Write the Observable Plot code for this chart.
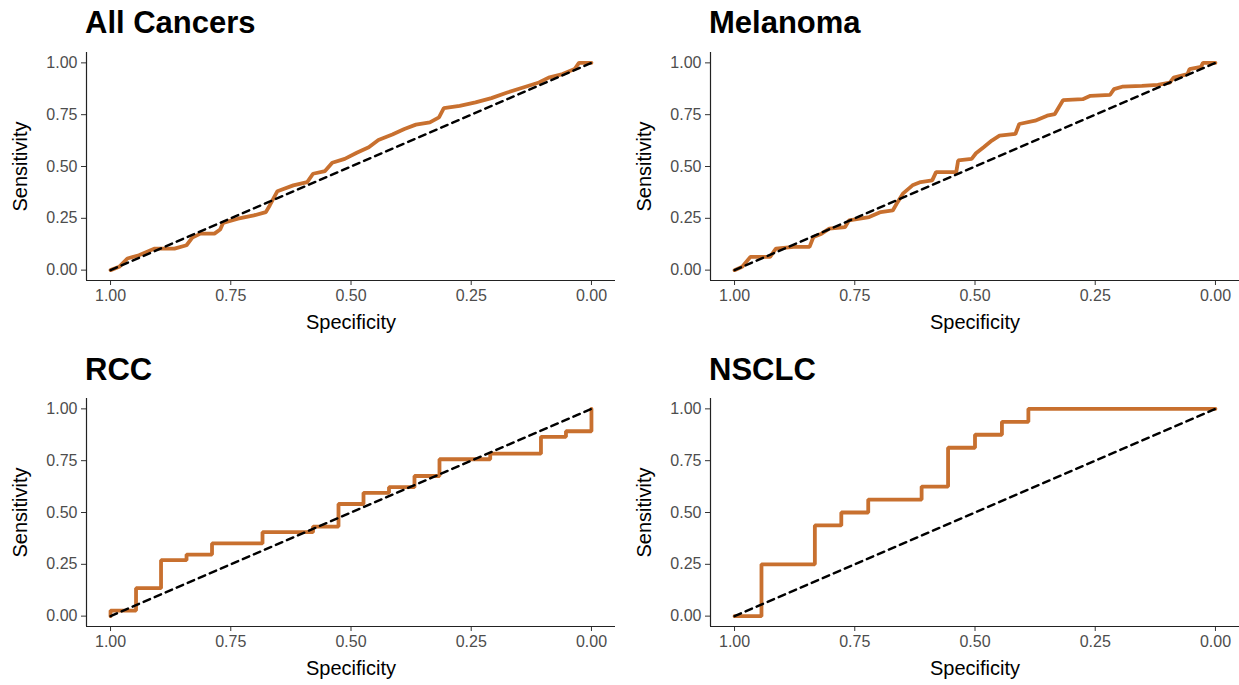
<!DOCTYPE html>
<html>
<head>
<meta charset="utf-8">
<script src="https://cdn.jsdelivr.net/npm/d3@7"></script>
<script src="https://cdn.jsdelivr.net/npm/@observablehq/plot@0.6"></script>
<style>
  html, body { margin: 0; padding: 0; background: #fff; }
  #root { position: relative; width: 1239px; height: 685px; overflow: hidden;
          font-family: "Liberation Sans", Arial, Helvetica, sans-serif; }
  .panel { position: absolute; }
  .title { position: absolute; font-weight: bold; font-size: 31px; line-height: 1; color: #000; white-space: nowrap; }
</style>
</head>
<body>
<div id="root"></div>
<script>
// ---- Data (specificity, sensitivity) ----
const titles = ["All Cancers", "Melanoma", "RCC", "NSCLC"];
const xTicks = [1, 0.75, 0.5, 0.25, 0];
const yTicks = [0, 0.25, 0.5, 0.75, 1];

const allSpec = [1.000,0.982,0.965,0.941,0.908,0.867,0.842,0.830,0.813,0.784,0.772,0.766,0.735,0.702,0.677,0.669,0.653,0.620,0.591,0.579,0.554,0.539,0.513,0.488,0.463,0.443,0.414,0.389,0.365,0.336,0.317,0.307,0.274,0.241,0.208,0.175,0.142,0.109,0.089,0.060,0.035,0.026,0.000];
const allSens = [0.000,0.016,0.056,0.072,0.104,0.104,0.120,0.157,0.176,0.176,0.196,0.228,0.248,0.264,0.280,0.312,0.381,0.409,0.425,0.465,0.478,0.518,0.537,0.566,0.593,0.628,0.654,0.681,0.702,0.713,0.737,0.782,0.793,0.809,0.830,0.857,0.881,0.905,0.929,0.946,0.970,1.000,1.000];

const melSpec = [1.000,0.984,0.967,0.926,0.914,0.877,0.844,0.836,0.819,0.803,0.770,0.762,0.720,0.696,0.671,0.663,0.650,0.630,0.613,0.589,0.581,0.539,0.535,0.507,0.498,0.482,0.465,0.449,0.416,0.408,0.375,0.350,0.334,0.326,0.317,0.276,0.260,0.219,0.211,0.194,0.153,0.120,0.095,0.087,0.058,0.054,0.030,0.026,0.000];
const melSens = [0.000,0.016,0.064,0.064,0.104,0.112,0.112,0.160,0.176,0.200,0.208,0.240,0.256,0.280,0.288,0.320,0.369,0.409,0.425,0.433,0.473,0.473,0.529,0.537,0.564,0.593,0.625,0.649,0.657,0.705,0.721,0.745,0.753,0.785,0.820,0.825,0.841,0.846,0.873,0.885,0.889,0.894,0.905,0.929,0.946,0.970,0.981,1.000,1.000];

const rccSpec = [1,1,0.947,0.895,0.842,0.789,0.684,0.579,0.526,0.474,0.421,0.368,0.316,0.2105,0.105,0.053,0];
const rccSens = [0,0.027,0.135,0.270,0.297,0.351,0.405,0.432,0.541,0.595,0.622,0.676,0.757,0.784,0.865,0.892,1];

const nscSpec = [1,0.944,0.833,0.778,0.722,0.611,0.556,0.5,0.444,0.389,0];
const nscSens = [0,0.25,0.4375,0.5,0.5625,0.625,0.8125,0.875,0.9375,1,1];

const refSpec = [1, 0];
const refSens = [0, 1];

const series = [
  {spec: allSpec, sens: allSens, curve: "linear"},
  {spec: melSpec, sens: melSens, curve: "linear"},
  {spec: rccSpec, sens: rccSens, curve: "step-after"},
  {spec: nscSpec, sens: nscSens, curve: "step-after"}
];

// ---- Layout ----
const positions = [
  {left: 0,   top: 40,  titleTop: 7},
  {left: 624, top: 40,  titleTop: 7},
  {left: 0,   top: 386, titleTop: 354},
  {left: 624, top: 386, titleTop: 354}
];

const root = document.getElementById("root");
const LINE = "#c8702f";

series.forEach((s, i) => {
  const pos = positions[i];
  const data = s.spec.map((v, k) => ({spec: v, sens: s.sens[k]}));
  const ref = refSpec.map((v, k) => ({spec: v, sens: refSens[k]}));
  const chart = Plot.plot({
    width: 615,
    height: 298,
    marginLeft: 86,
    marginRight: 0,
    marginTop: 12,
    marginBottom: 58,
    style: {fontFamily: '"Liberation Sans", Arial, Helvetica, sans-serif', background: "transparent", overflow: "visible"},
    x: {domain: [1.05, -0.05]},
    y: {domain: [-0.05, 1.05]},
    marks: [
      Plot.axisX({ticks: xTicks, tickFormat: d3.format(".2f"), tickSize: 5, tickPadding: 4, fontSize: 16, color: "#4d4d4d", stroke: "#333",
                  label: "Specificity", labelAnchor: "center", labelArrow: "none", labelOffset: 48}),
      Plot.axisY({ticks: yTicks, tickFormat: d3.format(".2f"), tickSize: 5, tickPadding: 4, fontSize: 16, color: "#4d4d4d", stroke: "#333",
                  label: "Sensitivity", labelAnchor: "center", labelArrow: "none", labelOffset: 74}),
      Plot.ruleX([1.05], {stroke: "#222", strokeWidth: 1.2}),
      Plot.ruleY([-0.05], {stroke: "#222", strokeWidth: 1.2}),
      Plot.line(data, {x: "spec", y: "sens", curve: s.curve, stroke: LINE, strokeWidth: 3.8, strokeLinejoin: "miter"}),
      Plot.line(ref, {x: "spec", y: "sens", stroke: "#000", strokeWidth: 2.4, strokeDasharray: "7,5"})
    ]
  });
  chart.querySelectorAll('[aria-label="x-axis label"] text, [aria-label="y-axis label"] text').forEach(t => {
    t.setAttribute("fill", "#000");
    t.style.fontSize = "20px";
  });
  const wrap = document.createElement("div");
  wrap.className = "panel";
  wrap.style.left = pos.left + "px";
  wrap.style.top = pos.top + "px";
  wrap.appendChild(chart);
  root.appendChild(wrap);

  const t = document.createElement("div");
  t.className = "title";
  t.textContent = titles[i];
  t.style.left = (pos.left + 85) + "px";
  t.style.top = pos.titleTop + "px";
  root.appendChild(t);
});
</script>
</body>
</html>
